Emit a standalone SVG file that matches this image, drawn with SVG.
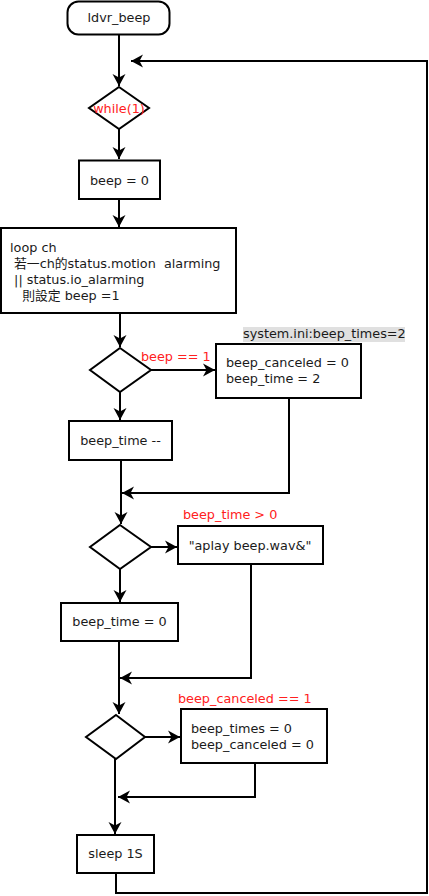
<svg xmlns="http://www.w3.org/2000/svg" width="429" height="896" viewBox="0 0 429 896">
<style>
.s{fill:#fff;stroke:#000;stroke-width:2}
.t{font-family:"DejaVu Sans","Noto Sans CJK TC",sans-serif;font-size:12.8px;fill:#1a1a1a}
.c{text-anchor:middle}
.r{fill:#ff2020}
.e{fill:none;stroke:#000;stroke-width:2}
</style>
<defs>
<marker id="a" viewBox="-1 -7 14 14" refX="12" refY="0" markerWidth="14" markerHeight="14" markerUnits="userSpaceOnUse" orient="auto">
<path d="M0,-6.5 L12,0 L0,6.5 L3.5,0 Z" fill="#000"/>
</marker>
</defs>
<rect width="429" height="896" fill="#fff"/>
<g id="connectors">
<path class="e" d="M119,35 V86" marker-end="url(#a)"/>
<path class="e" d="M119,129 V159" marker-end="url(#a)"/>
<path class="e" d="M119,199 V227" marker-end="url(#a)"/>
<path class="e" d="M120,313 V347" marker-end="url(#a)"/>
<path class="e" d="M151,370 H215" marker-end="url(#a)"/>
<path class="e" d="M120,392 V420" marker-end="url(#a)"/>
<path class="e" d="M289,398 V493 H122" marker-end="url(#a)"/>
<path class="e" d="M121,460 V524" marker-end="url(#a)"/>
<path class="e" d="M151,547 H177" marker-end="url(#a)"/>
<path class="e" d="M120,569 V602" marker-end="url(#a)"/>
<path class="e" d="M251,564 V678 H120" marker-end="url(#a)"/>
<path class="e" d="M119,641 V714" marker-end="url(#a)"/>
<path class="e" d="M145,737 H180" marker-end="url(#a)"/>
<path class="e" d="M255,763 V797 H118" marker-end="url(#a)"/>
<path class="e" d="M115,759 V834" marker-end="url(#a)"/>
<path class="e" d="M116,873 V893 H427 V61 H131" marker-end="url(#a)"/>
</g>
<g id="start">
<rect class="s" x="67.5" y="1.5" width="102" height="33" rx="11" ry="11"/>
<text class="t c" x="119" y="22">ldvr_beep</text>
</g>
<g id="while">
<path class="s" d="M119,87 L149,108 L119,129 L89,108 Z"/>
<text class="t c r" x="119" y="113">while(1)</text>
</g>
<g id="beep0">
<rect class="s" x="79" y="160.5" width="81" height="38.5"/>
<text class="t c" x="119.5" y="185">beep = 0</text>
</g>
<g id="loop">
<rect class="s" x="1" y="228" width="235" height="85"/>
<text class="t" x="10" y="252">loop ch</text>
<text class="t" x="10" y="268" xml:space="preserve"> 若一ch的status.motion  alarming</text>
<text class="t" x="10" y="284" xml:space="preserve"> || status.io_alarming</text>
<text class="t" x="10" y="300" xml:space="preserve">   則設定 beep =1</text>
</g>
<g id="d1">
<path class="s" d="M120,348 L151,370 L120,392 L90,370 Z"/>
<text class="t r" x="141" y="361">beep == 1</text>
</g>
<g id="set">
<rect x="243" y="327" width="162" height="15" fill="#e0e0e0"/>
<text class="t" x="243" y="338">system.ini:beep_times=2</text>
<rect class="s" x="216" y="344" width="145" height="54"/>
<text class="t" x="226" y="367">beep_canceled = 0</text>
<text class="t" x="226" y="383">beep_time = 2</text>
</g>
<g id="dec">
<rect class="s" x="69" y="421" width="103" height="39"/>
<text class="t c" x="120.5" y="445">beep_time --</text>
</g>
<g id="d2">
<path class="s" d="M120,525 L151,547 L120,569 L90,547 Z"/>
<text class="t r" x="183" y="519">beep_time &gt; 0</text>
</g>
<g id="aplay">
<rect class="s" x="178" y="526" width="145" height="38"/>
<text class="t c" x="250" y="550">"aplay beep.wav&amp;"</text>
</g>
<g id="zero">
<rect class="s" x="61" y="603" width="117" height="38"/>
<text class="t c" x="119.5" y="626">beep_time = 0</text>
</g>
<g id="d3">
<path class="s" d="M116,715 L145,737 L116,759 L86,737 Z"/>
<text class="t r" x="178" y="703">beep_canceled == 1</text>
</g>
<g id="reset">
<rect class="s" x="181" y="709" width="146" height="54"/>
<text class="t" x="191" y="733">beep_times = 0</text>
<text class="t" x="191" y="749">beep_canceled = 0</text>
</g>
<g id="sleep">
<rect class="s" x="77" y="835" width="77" height="38"/>
<text class="t c" x="115.5" y="858">sleep 1S</text>
</g>
</svg>
